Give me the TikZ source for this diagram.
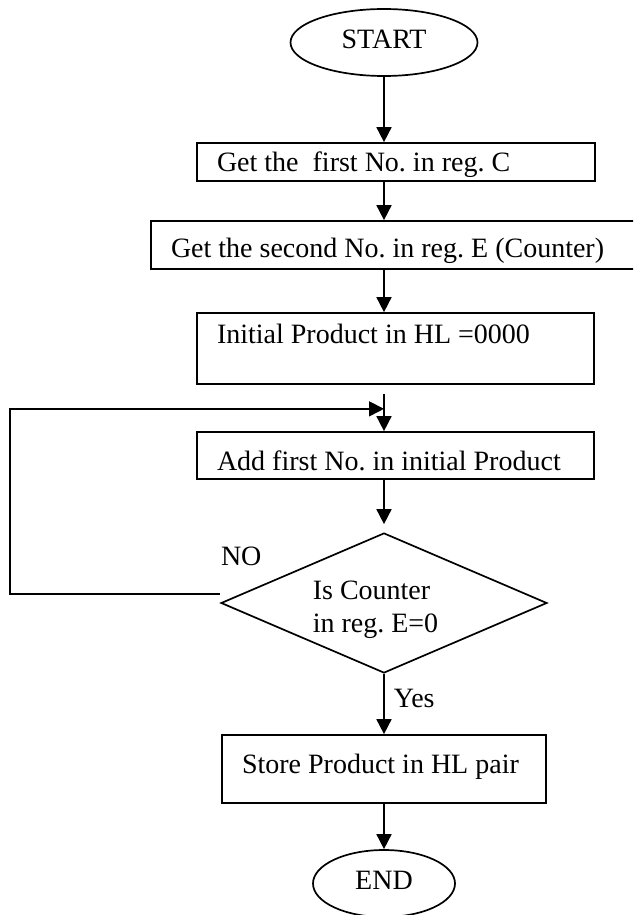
\documentclass[tikz,border=0pt]{standalone}
\usepackage{fontspec}
\setmainfont{Liberation Serif}
\usepackage{tikz}
\usetikzlibrary{shapes.geometric, arrows.meta, calc}
\frenchspacing

\begin{document}
\begin{tikzpicture}[
    x=0.5pt, y=-0.5pt,
    font=\fontsize{14pt}{16.5pt}\selectfont,
    flow/.style={line width=0.85pt},
    arrow/.style={flow, -{Triangle[length=7.5pt, width=7.5pt]}},
    term/.style={ellipse, draw, flow, inner sep=0pt, minimum height=33.5pt, text depth=3pt},
    proc/.style={rectangle, draw, flow, inner xsep=10pt, inner ysep=0pt, align=flush left, text height=12pt, text depth=3pt},
    decide/.style={diamond, draw, flow, inner sep=0pt, aspect=2.33, minimum width=163pt, minimum height=70pt},
    lbl/.style={inner sep=0pt}
]
\useasboundingbox (0,0) rectangle (633,915);
\clip (0,0) rectangle (633,915);

% Terminals and steps
\node[term, minimum width=93.5pt] (start) at (384,42.5) {START};
\node[proc, text width=179pt, minimum height=19pt] (first) at (396,162) {Get the~ first No. in reg. C};
\node[proc, text width=234.5pt, minimum height=24pt, text depth=0pt] (second) at (405.5,245) {Get the second No. in reg. E (Counter)};
\node[proc, text width=178.5pt, minimum height=35.5pt, text depth=17.5pt] (init) at (395.5,348.5) {Initial Product in HL =0000};
\node[proc, text width=178.5pt, minimum height=23.5pt, text height=17.5pt] (add) at (395.5,455.5) {Add first No. in initial Product};
\node[decide, label={[lbl, align=flush left, xshift=-4.25pt, yshift=-3.5pt]center:{Is Counter\\in reg. E=0}}] (check) at (384,603) {};
\node[proc, text width=142pt, minimum height=34pt, text depth=8pt] (store) at (384,769) {Store Product in HL pair};
\node[term, minimum width=71pt] (end) at (384,883.5) {END};

% Join point of the loop
\coordinate (join) at ($(start |- init.south)+(0,-4.5pt)$);
\coordinate (loopin) at ($(start |- init.south)+(0,-12pt)$);

% Main flow
\draw[arrow] (start) -- (start |- first.north);
\draw[arrow] (start |- first.south) -- (start |- second.north);
\draw[arrow] (start |- second.south) -- (start |- init.north);
\draw[arrow] (join) -- (join |- add.north);
\draw[arrow, shorten >=4pt] (check |- add.south) -- (check);
\draw[arrow] (check) -- node[lbl, pos=0.55, anchor=base west, xshift=4.5pt] {Yes} (store);
\draw[arrow] (store) -- (end);

% Loop back
\draw[arrow] ([yshift=4.5pt]check.west) node[lbl, anchor=base west, yshift=14.5pt] {NO} -- ++(-210,0) |- (loopin);

\end{tikzpicture}
\end{document}
